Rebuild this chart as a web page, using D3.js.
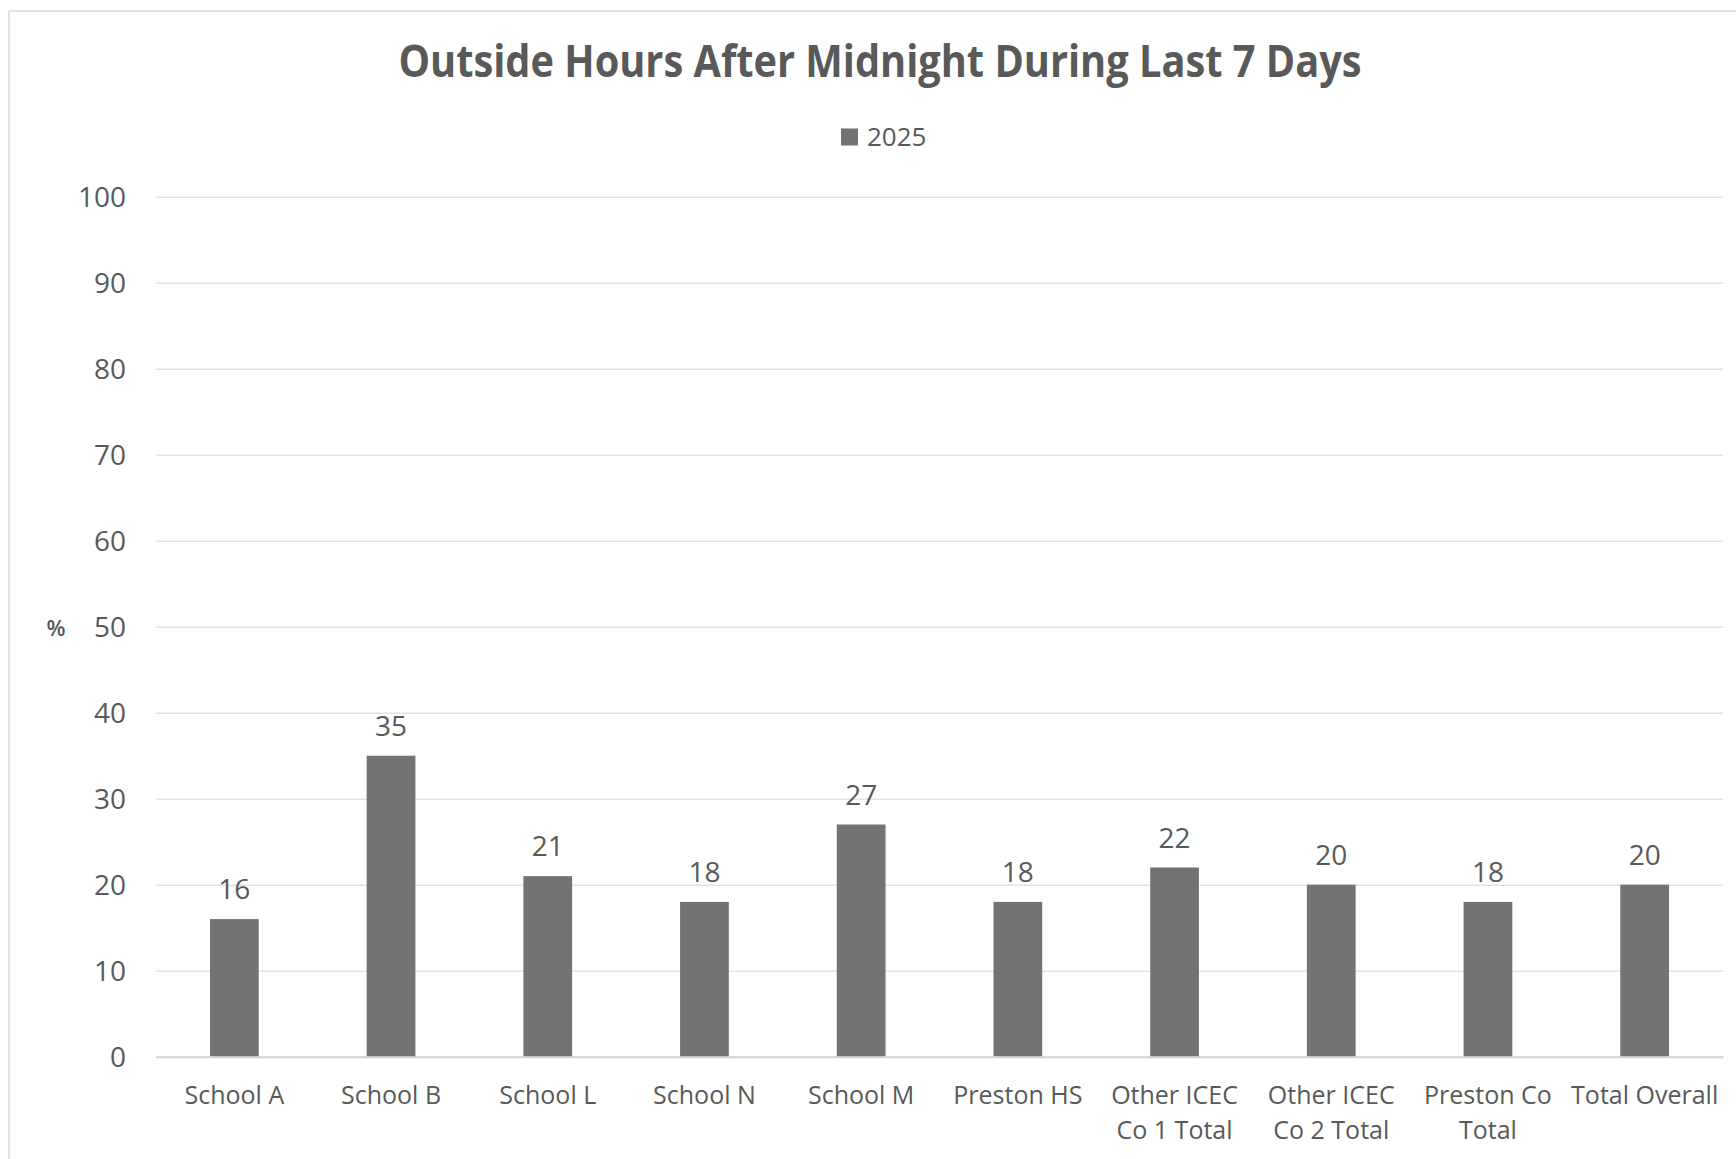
<!DOCTYPE html>
<html>
<head>
<meta charset="utf-8">
<script src="https://cdn.jsdelivr.net/npm/d3@7"></script>
<style>
  html, body { margin: 0; padding: 0; background: #ffffff; }
  svg { display: block; font-family: "Open Sans", "Noto Sans", sans-serif; }
</style>
</head>
<body>
<svg id="chart" width="1736" height="1159"></svg>
<script>
// Share of students outside after midnight, last 7 days (%)
const categories = [
  "School A", "School B", "School L", "School N", "School M",
  "Preston HS", "Other ICEC Co 1 Total", "Other ICEC Co 2 Total",
  "Preston Co Total", "Total Overall"
];
const values2025 = [16, 35, 21, 18, 27, 18, 22, 20, 18, 20];
const yTicks = [0, 10, 20, 30, 40, 50, 60, 70, 80, 90, 100];
const seriesName = "2025";
const chartTitle = "Outside Hours After Midnight During Last 7 Days";
const yAxisTitle = "%";

const fontStack = '"Open Sans", "Noto Sans", sans-serif';
const textColor = "#595959";
const barColor = "#737373";
const gridColor = "#e3e3e3";
const axisColor = "#d4d4d4";

const svg = d3.select("#chart");
const W = 1736, H = 1159;
const plot = { left: 156, right: 1723, top: 196.7, bottom: 1056.7 };

// Outer chart frame
svg.append("rect")
  .attr("x", 9).attr("y", 11)
  .attr("width", W + 20).attr("height", H + 20)
  .attr("fill", "#ffffff")
  .attr("stroke", "#d9d9d9").attr("stroke-width", 1.5);

const x = d3.scaleBand()
  .domain(categories)
  .range([plot.left, plot.right])
  .paddingInner(0.689)
  .paddingOuter(0.3445);

const y = d3.scaleLinear()
  .domain([0, 100])
  .range([plot.bottom, plot.top]);

// Gridlines and value labels on the left
const yAxis = svg.append("g")
  .attr("transform", `translate(${plot.left},0)`)
  .call(d3.axisLeft(y).tickValues(yTicks)
    .tickSize(-(plot.right - plot.left)).tickPadding(30))
  .attr("font-family", fontStack);
yAxis.select(".domain").remove();
yAxis.selectAll(".tick line")
  .attr("stroke", gridColor).attr("stroke-width", 1.4);
yAxis.selectAll(".tick text")
  .attr("fill", textColor)
  .attr("font-size", 28)
  .attr("dy", "0.36em");

// Bars
svg.append("g").selectAll("rect")
  .data(categories)
  .join("rect")
  .attr("x", d => x(d))
  .attr("width", x.bandwidth())
  .attr("y", (d, i) => y(values2025[i]))
  .attr("height", (d, i) => y(0) - y(values2025[i]))
  .attr("fill", barColor);

// Category axis
const xAxis = svg.append("g")
  .attr("transform", `translate(0,${plot.bottom})`)
  .call(d3.axisBottom(x).tickSize(0).tickPadding(0))
  .attr("font-family", fontStack);
xAxis.select(".domain")
  .attr("stroke", axisColor).attr("stroke-width", 2);
xAxis.selectAll(".tick text")
  .attr("fill", textColor)
  .attr("font-size", 25)
  .attr("dy", null)
  .attr("y", 47)
  .each(function () { wrap(d3.select(this), x.step() - 2, 35); });

function wrap(text, width, lineHeight) {
  const words = text.text().split(/\s+/);
  text.text(null);
  let line = [];
  let lineNo = 0;
  let tspan = text.append("tspan").attr("x", 0).attr("y", 47);
  for (const w of words) {
    line.push(w);
    tspan.text(line.join(" "));
    if (tspan.node().getComputedTextLength() > width && line.length > 1) {
      line.pop();
      tspan.text(line.join(" "));
      line = [w];
      lineNo += 1;
      tspan = text.append("tspan").attr("x", 0)
        .attr("y", 47 + lineNo * lineHeight).text(w);
    }
  }
}

// Data labels
svg.append("g").selectAll("text")
  .data(categories)
  .join("text")
  .attr("x", d => x(d) + x.bandwidth() / 2)
  .attr("y", (d, i) => y(values2025[i]) - 20)
  .attr("text-anchor", "middle")
  .attr("font-size", 28)
  .attr("fill", textColor)
  .text((d, i) => values2025[i]);

// Y axis title
svg.append("text")
  .attr("x", 56).attr("y", 636)
  .attr("text-anchor", "middle")
  .attr("font-size", 22)
  .attr("font-weight", 600)
  .attr("fill", textColor)
  .text(yAxisTitle);

// Title
svg.append("text")
  .attr("x", 880).attr("y", 77)
  .attr("text-anchor", "middle")
  .attr("font-size", 44)
  .attr("font-weight", 700)
  .attr("fill", textColor)
  .attr("textLength", 963)
  .attr("lengthAdjust", "spacingAndGlyphs")
  .text(chartTitle);

// Legend
const legend = svg.append("g");
legend.append("rect")
  .attr("x", 841).attr("y", 128.5)
  .attr("width", 17).attr("height", 17)
  .attr("fill", barColor);
legend.append("text")
  .attr("x", 867).attr("y", 145.5)
  .attr("font-size", 26)
  .attr("fill", textColor)
  .text(seriesName);
</script>
</body>
</html>
